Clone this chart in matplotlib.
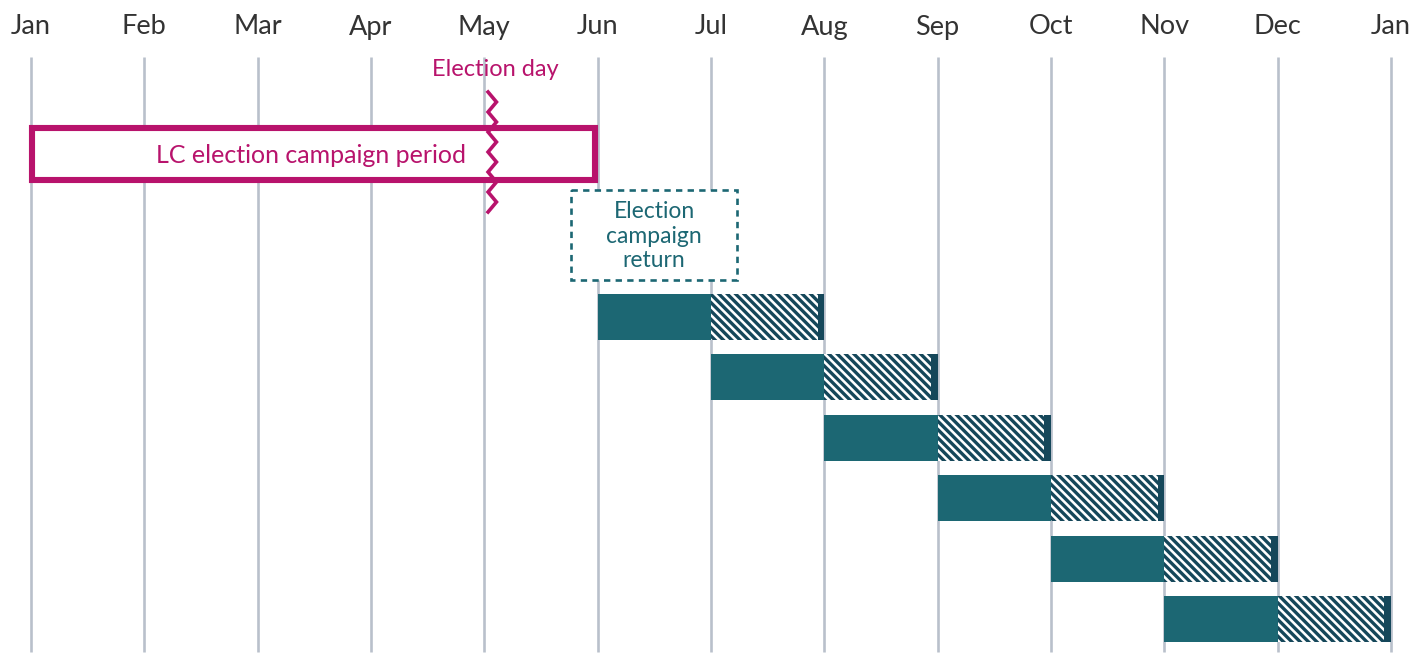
import matplotlib
matplotlib.use("Agg")
import matplotlib.pyplot as plt
from matplotlib.patches import Rectangle
import numpy as np

plt.rcParams['font.family'] = ['Lato', 'DejaVu Sans']
plt.rcParams['hatch.linewidth'] = 2.4

# ---- data ----
month_labels = ["Jan", "Feb", "Mar", "Apr", "May", "Jun", "Jul", "Aug", "Sep", "Oct", "Nov", "Dec", "Jan"]
month_pos = list(range(13))
# reporting rows: solid period start/end, hatched period end (month units)
row_solid_start = [5, 6, 7, 8, 9, 10]
row_solid_end = [6, 7, 8, 9, 10, 11]
row_hatch_end = [6.94, 7.94, 8.94, 9.94, 10.94, 11.94]
row_final_end = [7, 8, 9, 10, 11, 12]
campaign_start, campaign_end = 0, 5
election_day = 4.07
return_box = (4.765, 6.23)

TEAL = "#1c6773"
DARK = "#15475a"
MAG = "#b8136c"
GRID = "#b9c0cb"

fig = plt.figure(figsize=(14.11, 6.63), dpi=100)
ax = fig.add_axes([0, 0, 1, 1])
px_per_month = 113.33
ax.set_xlim(-31 / px_per_month, (1411 - 31) / px_per_month)
row_px = 60.4
y0 = 317
ax.set_ylim((663 - y0) / row_px, -y0 / row_px)
ax.axis("off")

def ypx(p):
    return (p - y0) / row_px

# gridlines and month labels
for m, lab in zip(month_pos, month_labels):
    ax.plot([m, m], [ypx(57), ypx(652)], color=GRID, lw=1.9, zorder=0, solid_capstyle='butt')
    ax.text(m, ypx(27), lab, ha="center", va="center", fontsize=19.5, color="#333333")

# rows
bh = 46 / row_px
for i, (s, e, h, f) in enumerate(zip(row_solid_start, row_solid_end, row_hatch_end, row_final_end)):
    ax.add_patch(Rectangle((s, i - bh / 2), e - s, bh, facecolor=TEAL, edgecolor="none", zorder=2))
    ax.add_patch(Rectangle((e, i - bh / 2), h - e, bh, facecolor="white", edgecolor=DARK,
                           hatch="\\\\\\\\", lw=0, zorder=2))
    ax.add_patch(Rectangle((h, i - bh / 2), f - h, bh, facecolor=DARK, edgecolor="none", zorder=2))

# campaign period box
ax.add_patch(Rectangle((campaign_start + 0.01, ypx(128)), campaign_end - campaign_start - 0.03,
                       ypx(180) - ypx(128), facecolor="white", edgecolor=MAG, lw=4.4, zorder=3))
ax.text((campaign_start + campaign_end) / 2 - 0.03, ypx(155), "LC election campaign period",
        ha="center", va="center", fontsize=18, color=MAG, zorder=5)

# election day zigzag
n = 12
zy = np.linspace(ypx(92), ypx(212), n + 1)
amp = 4.2 / px_per_month
zx = election_day + np.where(np.arange(n + 1) % 2 == 0, -amp, amp)
ax.plot(zx, zy, color=MAG, lw=2.6, zorder=4, solid_joinstyle='miter')
ax.text(election_day + 0.025, ypx(69), "Election day", ha="center", va="center",
        fontsize=17, color=MAG)

# election campaign return dashed box
ax.add_patch(Rectangle((return_box[0], ypx(190)), return_box[1] - return_box[0], ypx(280) - ypx(190),
                       facecolor="white", edgecolor=TEAL, lw=1.9, ls=(0, (2.4, 2.0)), zorder=3))
ax.text((return_box[0] + return_box[1]) / 2, ypx(236), "Election\ncampaign\nreturn",
        ha="center", va="center", fontsize=16.5, color=TEAL, linespacing=1.2, zorder=5)

fig.savefig("out.png", dpi=100)
